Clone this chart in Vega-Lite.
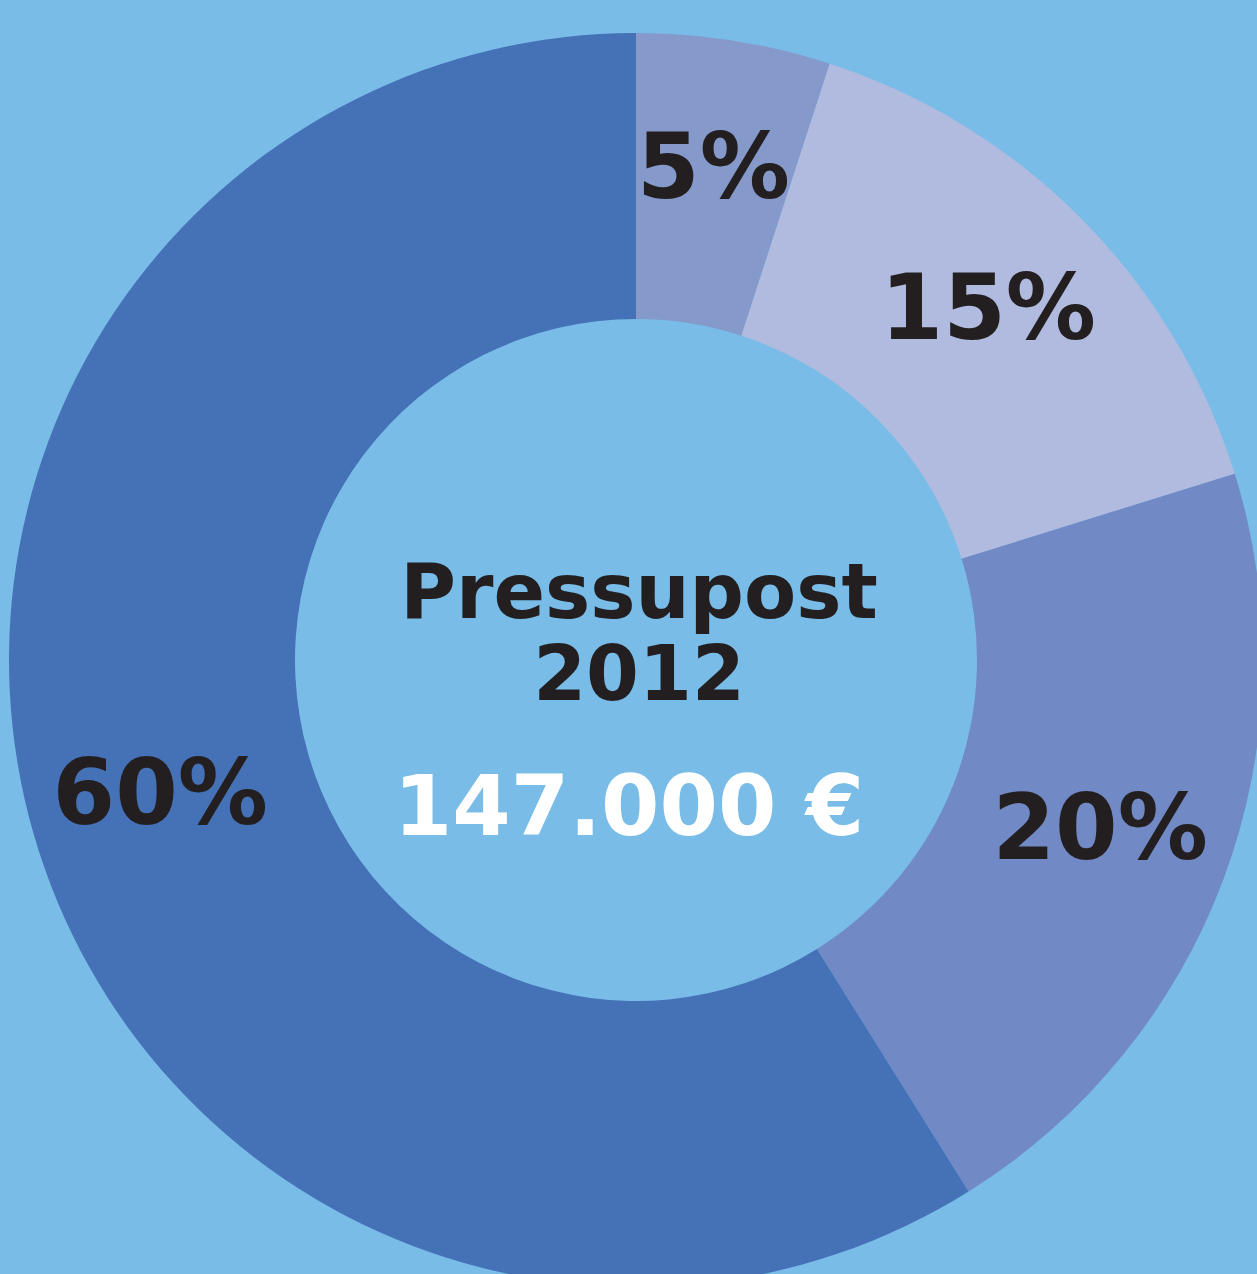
{
  "$schema": "https://vega.github.io/schema/vega-lite/v6.json",
  "autosize": {"type": "fit", "contains": "padding"},
  "width": 1257,
  "height": 1274,
  "padding": {"left": 15, "top": 46, "right": 0, "bottom": 0},
  "background": "#78BCE7",
  "config": {"view": {"stroke": null}},
  "layer": [
    {
      "data": {"name": "slices", "values": [
        {"segment": "A", "order": 1, "share": 5, "label": "5%"},
        {"segment": "B", "order": 2, "share": 15.2, "label": "15%"},
        {"segment": "C", "order": 3, "share": 20.9, "label": "20%"},
        {"segment": "D", "order": 4, "share": 58.9, "label": "60%"}
      ]},
      "layer": [
        {
          "mark": {"type": "arc", "outerRadius": 627, "innerRadius": 341},
          "encoding": {
            "theta": {"field": "share", "type": "quantitative", "stack": true},
            "order": {"field": "order", "type": "quantitative", "sort": "ascending"},
            "color": {"field": "segment", "type": "nominal", "legend": null,
              "scale": {"domain": ["A", "B", "C", "D"], "range": ["#8699CB", "#B1BBDF", "#7189C5", "#4571B7"]}}
          }
        },
        {
          "mark": {"type": "text", "radius": 495, "font": "DejaVu Sans", "fontWeight": "bold", "fontSize": 90, "color": "#231F20", "align": "center", "baseline": "middle"},
          "encoding": {
            "theta": {"field": "share", "type": "quantitative", "stack": true},
            "order": {"field": "order", "type": "quantitative", "sort": "ascending"},
            "text": {"field": "label"}
          }
        }
      ]
    },
    {
      "data": {"values": [{"t": "Pressupost"}]},
      "mark": {"type": "text", "font": "DejaVu Sans", "fontWeight": "bold", "fontSize": 76, "color": "#231F20", "align": "center", "baseline": "alphabetic", "dy": -42, "dx": 3},
      "encoding": {"text": {"field": "t"}}
    },
    {
      "data": {"values": [{"t": "2012"}]},
      "mark": {"type": "text", "font": "DejaVu Sans", "fontWeight": "bold", "fontSize": 76, "color": "#231F20", "align": "center", "baseline": "alphabetic", "dy": 40, "dx": 3},
      "encoding": {"text": {"field": "t"}}
    },
    {
      "data": {"values": [{"t": "147.000 €"}]},
      "mark": {"type": "text", "font": "DejaVu Sans", "fontWeight": "bold", "fontSize": 84, "color": "#FFFFFF", "align": "center", "baseline": "alphabetic", "dy": 175, "dx": -7},
      "encoding": {"text": {"field": "t"}}
    }
  ]
}
